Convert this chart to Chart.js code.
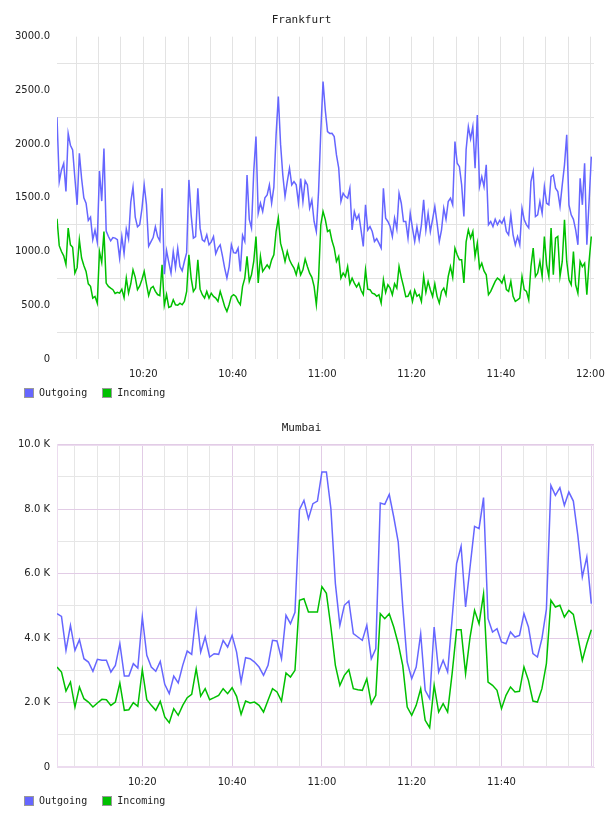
<!DOCTYPE html>
<html>
<head>
<meta charset="utf-8">
<title>Frankfurt / Mumbai</title>
<script src="https://cdn.jsdelivr.net/npm/chart.js@4/dist/chart.umd.min.js"></script>
<style>
  html, body { margin: 0; padding: 0; background: #fff; }
  .panel { position: relative; width: 608px; height: 408px; }
  .panel canvas { position: absolute; left: 0; top: 0; }
  .legend { position: absolute; left: 24px; top: 388px; display: flex;
            font: 10px 'DejaVu Sans Mono', monospace; color: #222; line-height: 10px; }
  .legend .item { display: flex; align-items: center; margin-right: 15px; }
  .legend .swatch { width: 10px; height: 10px; box-sizing: border-box;
                    border: 1px solid #999; margin-right: 5px; }
</style>
</head>
<body>
<div class="panel">
  <canvas id="frankfurtChart" width="608" height="408"></canvas>
  <div class="legend" id="frankfurtLegend"></div>
</div>
<div class="panel">
  <canvas id="mumbaiChart" width="608" height="408"></canvas>
  <div class="legend" id="mumbaiLegend"></div>
</div>
<script>
const seriesNames = ['Outgoing', 'Incoming'];
const seriesColors = ['#6666ff', '#00c000'];

// minutes after 10:00, one sample every 30 s
const frankfurtStart = 0.7;
const frankfurtStep = 0.5;
const frankfurtOutgoing = [
  2250,1650,1760,1820,1560,2100,1990,1946,1683,1435,
  1915,1680,1500,1450,1290,1320,1110,1200,1090,1750,
  1470,1960,1190,1140,1100,1130,1125,1110,940,1140,
  980,1210,1120,1460,1600,1320,1230,1250,1400,1620,
  1440,1050,1090,1130,1230,1140,1100,1590,790,1010,
  900,800,1000,850,1030,860,820,910,990,1667,
  1342,1125,1140,1590,1218,1110,1094,1156,1063,1090,
  1140,980,1032,1063,960,846,753,860,1063,990,
  985,1032,815,1150,1094,1713,1300,1218,1745,2070,
  1357,1450,1373,1500,1528,1621,1450,1600,2086,2442,
  2000,1713,1512,1652,1776,1620,1652,1621,1450,1680,
  1466,1660,1621,1404,1480,1280,1187,1560,2120,2582,
  2318,2117,2100,2101,2070,1900,1780,1466,1543,1512,
  1497,1590,1202,1373,1300,1342,1200,1047,1435,1200,
  1233,1187,1094,1120,1078,1032,1590,1311,1280,1233,
  1140,1311,1210,1543,1450,1280,1280,1125,1357,1218,
  1094,1230,1109,1249,1481,1200,1357,1187,1300,1420,
  1264,1094,1202,1404,1300,1466,1497,1435,2024,1822,
  1790,1621,1326,1950,2163,2050,2163,1776,2272,1605,
  1698,1605,1807,1250,1280,1233,1300,1249,1290,1264,
  1311,1187,1156,1342,1156,1063,1140,1063,1404,1295,
  1249,1220,1652,1745,1326,1342,1466,1357,1605,1450,
  1435,1698,1713,1590,1559,1420,1621,1807,2086,1435,
  1342,1300,1202,1063,1683,1435,1822,1063,1466,1884
];
const frankfurtIncoming = [
  1305,1055,1000,960,880,1218,1063,1040,800,850,
  1109,940,870,815,700,676,567,583,520,1000,
  900,1187,707,676,660,645,610,620,613,650,
  570,753,613,700,830,760,645,680,740,815,
  700,590,660,676,630,600,590,877,500,600,
  480,490,551,505,500,520,505,536,629,970,
  753,629,660,923,650,598,567,629,567,613,
  583,567,536,629,560,489,443,505,583,598,
  583,536,505,676,753,955,722,784,908,1140,
  707,955,815,846,877,846,923,970,1187,1311,
  1078,1001,908,1001,923,880,846,784,877,784,
  830,930,861,799,760,676,505,750,1250,1373,
  1300,1187,1200,1100,1032,908,955,753,800,768,
  860,700,753,707,670,707,640,600,830,650,
  645,613,605,583,598,520,737,620,691,660,
  598,700,660,861,760,676,580,583,629,536,
  640,583,600,536,768,620,722,645,583,700,
  583,520,629,660,598,768,861,760,1032,970,
  923,923,707,1090,1202,1125,1187,955,1078,846,
  892,820,784,598,629,676,722,753,737,707,
  768,645,629,722,583,536,551,567,768,645,
  629,551,861,1032,768,800,908,768,1140,877,
  768,1218,784,1125,1140,768,908,1295,908,737,
  691,1001,691,613,908,860,892,598,908,1140
];

// minutes after 10:00, one sample per minute
const mumbaiStart = 1;
const mumbaiStep = 1;
const mumbaiOutgoing = [
  4756,4674,3619,4394,3619,3950,3360,3257,2968,3340,
  3309,3309,2947,3154,3826,2823,2823,3205,3071,4653,
  3464,3102,2968,3278,2564,2275,2823,2606,3154,3598,
  3495,4808,3567,4033,3412,3516,3495,3929,3722,4084,
  3567,2637,3392,3360,3257,3102,2844,3154,3929,3909,
  3360,4705,4446,4800,7984,8273,7705,8171,8251,9152,
  9152,8015,5690,4394,5016,5150,4136,4033,3929,4394,
  3360,3670,8189,8148,8458,7757,6981,5000,3257,2740,
  3102,4136,2378,2120,4343,2947,3309,2947,4600,6310,
  6849,4964,6207,7468,7396,8358,4601,4188,4291,3878,
  3826,4188,4033,4084,4756,4343,3516,3412,3981,4900,
  8738,8428,8666,8118,8531,8251,7189,5896,6517,5070
];
const mumbaiIncoming = [
  3102,2947,2358,2637,1861,2482,2120,2016,1861,1985,
  2099,2089,1913,2016,2606,1758,1778,1996,1882,3019,
  2089,1913,1758,2037,1551,1375,1810,1603,1913,2151,
  2254,3050,2202,2430,2089,2151,2223,2430,2275,2461,
  2192,1634,2047,1985,2016,1913,1706,2068,2430,2327,
  2047,2916,2792,2999,5171,5222,4808,4808,4808,5595,
  5390,4343,3154,2533,2844,3019,2430,2399,2378,2740,
  1965,2223,4756,4601,4756,4343,3826,3154,1861,1603,
  1913,2430,1448,1220,2533,1706,1965,1706,2895,4260,
  4260,2895,4033,4860,4446,5369,2637,2533,2380,1810,
  2223,2482,2327,2347,3102,2688,2047,2016,2430,3205,
  5171,4964,5016,4653,4860,4735,4033,3309,3826,4260
];

const frankfurtTimeLabels = ['10:20', '10:40', '11:00', '11:20', '11:40', '12:00'];
const mumbaiTimeLabels = ['10:20', '10:40', '11:00', '11:20', '11:40'];
const frankfurtValueLabels = ['0', '500.0', '1000.0', '1500.0', '2000.0', '2500.0', '3000.0'];
const mumbaiValueLabels = ['0', '2.0 K', '4.0 K', '6.0 K', '8.0 K', '10.0 K'];

function clock(min) {
  const h = 10 + Math.floor(min / 60);
  const m = min % 60;
  return h + ':' + (m < 10 ? '0' + m : m);
}

function toPoints(start, step, values) {
  return values.map((v, i) => ({ x: start + i * step, y: v }));
}

function makeLegend(id) {
  const el = document.getElementById(id);
  seriesNames.forEach((name, i) => {
    const item = document.createElement('span');
    item.className = 'item';
    const sw = document.createElement('span');
    sw.className = 'swatch';
    sw.style.background = seriesColors[i];
    item.appendChild(sw);
    item.appendChild(document.createTextNode(name));
    el.appendChild(item);
  });
}

const framePlugin = {
  id: 'frame',
  beforeDatasetsDraw(chart, args, opts) {
    if (!opts.color) return;
    const a = chart.chartArea;
    const ctx = chart.ctx;
    ctx.save();
    ctx.strokeStyle = opts.color;
    ctx.lineWidth = 1;
    ctx.strokeRect(Math.round(a.left) + 0.5, Math.round(a.top) + 0.5,
      Math.round(a.width) - 1, Math.round(a.height) - 1);
    ctx.restore();
  }
};

function makeChart(id, cfg) {
  const tickFont = { family: 'DejaVu Sans', size: 10 };
  new Chart(document.getElementById(id), {
    type: 'line',
    data: {
      datasets: cfg.series.map((values, i) => ({
        label: seriesNames[i],
        data: toPoints(cfg.start, cfg.step, values),
        borderColor: seriesColors[i],
        backgroundColor: seriesColors[i],
        borderWidth: 1.5,
        pointRadius: 0,
        tension: 0,
        fill: false
      }))
    },
    options: {
      responsive: false,
      animation: false,
      events: [],
      layout: { padding: { left: 9, right: 14, top: 0, bottom: 27 } },
      scales: {
        x: {
          type: 'linear',
          min: cfg.xMin,
          max: cfg.xMax,
          grid: {
            drawTicks: false,
            color: c => (c.tick && c.tick.value % 20 === 0) ? cfg.majorX : cfg.minor
          },
          border: { display: cfg.frame !== null, color: cfg.frame || '#fff' },
          ticks: {
            stepSize: 5,
            includeBounds: false,
            autoSkip: false,
            maxRotation: 0,
            padding: 9,
            color: '#222',
            font: tickFont,
            callback: v => (v % 20 === 0 && cfg.timeLabels.includes(clock(v))) ? clock(v) : ''
          },
          afterFit: s => { s.height = 22; s.paddingLeft = 0; s.paddingRight = 0; }
        },
        y: {
          min: 0,
          max: cfg.yMax,
          grid: {
            drawTicks: false,
            color: c => (c.tick && c.tick.value % cfg.yLabelStep === 0) ? cfg.majorY : cfg.minor
          },
          border: { display: cfg.frame !== null, color: cfg.frame || '#fff' },
          ticks: {
            stepSize: cfg.yLabelStep / 2,
            autoSkip: false,
            padding: 7,
            color: '#222',
            font: tickFont,
            callback: v => v % cfg.yLabelStep === 0 ? cfg.valueLabels[v / cfg.yLabelStep] : ''
          },
          afterFit: s => { s.width = 48; }
        }
      },
      plugins: {
        frame: { color: cfg.frame },
        tooltip: { enabled: false },
        legend: { display: false },
        title: {
          display: true,
          text: cfg.title,
          color: '#222',
          font: { family: 'DejaVu Sans Mono', size: 11, weight: 'normal' },
          padding: { top: 14, bottom: 9.5 }
        }
      }
    },
    plugins: [framePlugin]
  });
}

makeChart('frankfurtChart', {
  title: 'Frankfurt',
  start: frankfurtStart,
  step: frankfurtStep,
  series: [frankfurtOutgoing, frankfurtIncoming],
  xMin: 0.7,
  xMax: 120.8,
  yMax: 3000,
  yLabelStep: 500,
  timeLabels: frankfurtTimeLabels,
  valueLabels: frankfurtValueLabels,
  minor: '#e3e3e3',
  majorX: '#e3e3e3',
  majorY: 'rgba(0,0,0,0)',
  frame: null
});
makeLegend('frankfurtLegend');

makeChart('mumbaiChart', {
  title: 'Mumbai',
  start: mumbaiStart,
  step: mumbaiStep,
  series: [mumbaiOutgoing, mumbaiIncoming],
  xMin: 1,
  xMax: 120.6,
  yMax: 10000,
  yLabelStep: 2000,
  timeLabels: mumbaiTimeLabels,
  valueLabels: mumbaiValueLabels,
  minor: '#e6e6e6',
  majorX: '#e2cce6',
  majorY: '#e2cce6',
  frame: '#ecdcef'
});
makeLegend('mumbaiLegend');
</script>
</body>
</html>
